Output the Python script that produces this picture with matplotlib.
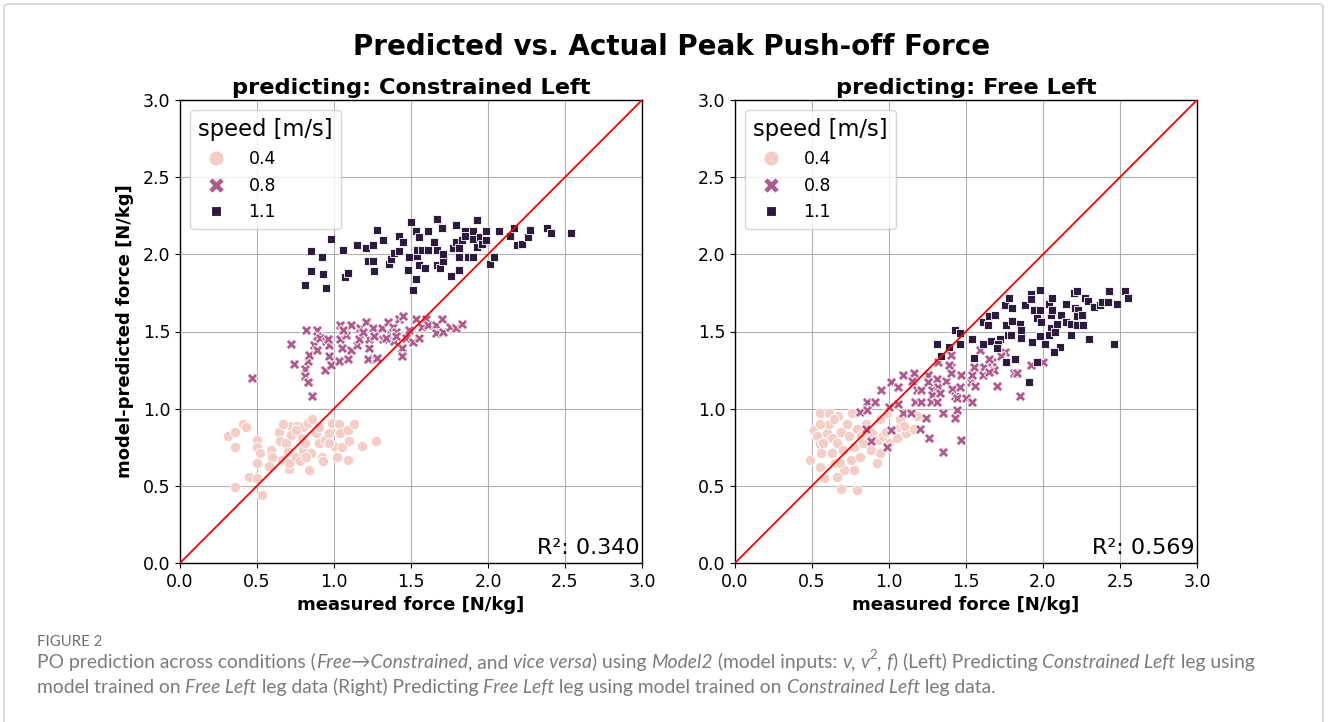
import matplotlib
matplotlib.use("Agg")
import matplotlib.pyplot as plt
from matplotlib.lines import Line2D
from matplotlib.patches import FancyBboxPatch
import numpy as np

# ---------------- data ----------------
speeds = [0.4, 0.8, 1.1]
speed_labels = ["0.4", "0.8", "1.1"]

# Left panel: predicting Constrained Left
left_04_x = [0.31,0.36,0.36,0.41,0.43,0.36,0.45,0.50,0.53,0.50,0.50,0.52,0.50,0.59,0.60,0.58,0.64,0.65,0.66,0.69,0.70,0.71,0.71,0.72,0.72,0.75,0.76,0.78,0.79,0.80,0.80,0.81,0.83,0.84,0.86,0.85,0.88,0.90,0.92,0.93,0.94,0.97,0.99,1.00,1.03,1.02,1.04,1.05,1.09,1.10,1.09,1.13,1.18,1.27,0.67,0.75,0.90,0.82,0.97]
left_04_y = [0.82,0.85,0.75,0.90,0.88,0.49,0.56,0.55,0.44,0.80,0.75,0.71,0.65,0.73,0.69,0.63,0.85,0.79,0.67,0.78,0.72,0.61,0.65,0.89,0.83,0.69,0.89,0.66,0.81,0.73,0.88,0.78,0.91,0.60,0.93,0.71,0.84,0.78,0.69,0.66,0.80,0.84,0.91,0.76,0.90,0.69,0.84,0.75,0.67,0.79,0.86,0.90,0.76,0.79,0.90,0.86,0.88,0.69,0.78]

left_08_x = [0.47,0.72,0.74,0.82,0.89,0.81,0.81,0.84,0.83,0.84,0.87,0.89,0.91,0.89,0.95,0.94,0.97,0.97,0.98,0.96,1.04,1.04,1.03,1.05,1.08,1.09,1.11,1.11,1.15,1.16,1.17,1.21,1.22,1.23,1.23,1.25,1.26,1.27,1.28,1.31,1.32,1.35,1.37,1.38,1.39,1.40,1.42,1.45,1.44,1.44,1.47,1.49,1.53,1.51,1.55,1.57,1.60,1.61,1.66,1.66,1.70,1.71,1.75,1.79,1.83,1.06,1.19,1.34,1.40,0.86,0.83]
left_08_y = [1.20,1.42,1.29,1.51,1.51,1.26,1.21,1.17,1.31,1.35,1.41,1.47,1.46,1.38,1.44,1.25,1.41,1.34,1.28,1.45,1.54,1.45,1.31,1.39,1.48,1.32,1.38,1.54,1.41,1.45,1.52,1.56,1.32,1.39,1.45,1.52,1.47,1.32,1.33,1.52,1.45,1.56,1.48,1.53,1.44,1.50,1.58,1.60,1.39,1.34,1.46,1.51,1.58,1.43,1.46,1.53,1.58,1.54,1.54,1.49,1.58,1.50,1.53,1.52,1.55,1.51,1.50,1.46,1.47,1.08,1.175]

left_11_x = [0.85,0.81,0.85,0.92,0.93,0.95,0.98,1.06,1.07,1.09,1.15,1.21,1.25,1.22,1.25,1.26,1.28,1.32,1.36,1.37,1.39,1.42,1.42,1.45,1.48,1.49,1.50,1.53,1.53,1.51,1.54,1.54,1.55,1.55,1.57,1.59,1.61,1.61,1.65,1.67,1.67,1.67,1.69,1.70,1.71,1.71,1.76,1.77,1.79,1.79,1.81,1.81,1.81,1.83,1.85,1.85,1.87,1.90,1.90,1.90,1.93,1.93,1.95,1.96,1.99,1.99,2.01,2.04,2.07,2.14,2.17,2.19,2.22,2.26,2.27,2.38,2.41,2.54]
left_11_y = [2.02,1.80,1.89,1.98,1.87,1.78,2.10,2.03,1.85,1.88,2.06,2.04,2.06,1.96,1.96,1.89,2.16,2.09,1.94,1.97,2.01,2.02,2.12,2.08,1.90,1.98,2.21,2.15,1.84,1.77,1.99,2.03,2.11,1.93,2.03,1.91,2.15,2.03,2.08,2.03,1.93,2.23,1.91,2.17,1.96,2.00,1.86,2.04,2.19,2.08,1.98,1.90,2.04,2.09,2.15,2.12,1.98,1.98,2.15,2.10,2.22,2.05,2.11,2.07,2.15,2.09,1.94,1.98,2.15,2.12,2.17,2.06,2.07,2.11,2.16,2.17,2.14,2.14]

# Right panel: predicting Free Left
right_04_x = [0.49,0.51,0.53,0.55,0.55,0.56,0.60,0.61,0.61,0.63,0.63,0.65,0.66,0.67,0.69,0.69,0.70,0.71,0.73,0.74,0.75,0.77,0.76,0.77,0.79,0.79,0.81,0.82,0.83,0.85,0.88,0.89,0.92,0.94,0.93,0.94,0.96,0.99,0.98,1.00,1.05,1.07,1.11,1.07,0.55,0.64,0.68,0.57,1.16,1.10,1.18,0.55,0.58,0.66]
right_04_y = [0.67,0.86,0.82,0.77,0.97,0.71,0.84,0.97,0.90,0.71,0.81,0.65,0.78,0.95,0.48,0.85,0.73,0.60,0.90,0.82,0.67,0.60,0.97,0.75,0.87,0.47,0.69,0.82,0.78,0.90,0.73,0.84,0.65,0.71,0.80,0.93,0.82,0.97,0.85,0.78,0.81,0.88,0.84,0.93,0.90,0.93,0.65,0.78,0.87,0.89,0.95,0.62,0.55,0.56]

right_08_x = [0.86,0.91,0.81,0.86,0.85,0.95,1.01,1.06,1.09,1.16,1.15,1.18,1.17,1.21,1.09,1.14,1.21,1.25,1.25,1.24,1.20,1.26,1.28,1.28,1.27,1.31,1.32,1.31,1.33,1.35,1.37,1.40,1.40,1.41,1.43,1.44,1.43,1.44,1.46,1.47,1.50,1.53,1.54,1.54,1.56,1.55,1.59,1.62,1.61,1.67,1.68,1.70,1.75,1.73,1.81,1.83,1.85,1.92,1.47,1.35,1.01,0.99,1.65,1.65,1.40,1.32,1.39,2.00,0.88,1.00,1.06]
right_08_y = [1.04,1.04,0.98,0.99,0.87,1.12,1.17,1.14,1.22,1.23,1.18,1.12,1.04,1.04,0.97,0.97,1.12,1.22,1.17,0.94,0.87,0.81,1.12,1.09,1.04,1.19,1.14,1.04,1.10,0.97,1.18,1.27,1.23,1.13,1.08,0.99,0.94,1.07,1.14,1.22,1.07,1.17,1.04,1.22,1.15,1.27,1.38,1.27,1.22,1.30,1.25,1.15,1.37,1.34,1.23,1.23,1.08,1.28,0.80,0.72,0.86,0.75,1.24,1.32,1.35,1.30,1.28,1.30,0.79,1.01,1.03]

right_11_x = [1.31,1.39,1.34,1.43,1.46,1.46,1.54,1.55,1.61,1.64,1.65,1.69,1.61,1.66,1.72,1.71,1.70,1.75,1.78,1.80,1.76,1.80,1.77,1.79,1.85,1.86,1.86,1.76,1.82,1.88,1.92,1.92,1.93,1.94,1.96,1.98,1.98,1.99,1.98,2.01,1.96,2.04,2.06,2.05,2.06,2.05,2.04,2.09,2.08,2.11,2.07,2.12,2.15,2.15,2.18,2.18,2.20,2.22,2.21,2.23,2.22,2.22,2.26,2.25,2.27,2.29,2.30,2.33,2.37,2.38,2.42,2.43,2.46,2.48,2.53,2.55,1.91]
right_11_y = [1.42,1.40,1.34,1.51,1.49,1.42,1.45,1.33,1.56,1.54,1.60,1.61,1.42,1.44,1.45,1.42,1.39,1.67,1.72,1.65,1.54,1.57,1.48,1.48,1.55,1.51,1.46,1.30,1.32,1.67,1.74,1.71,1.43,1.64,1.59,1.64,1.77,1.56,1.47,1.42,1.30,1.68,1.72,1.61,1.64,1.52,1.48,1.55,1.50,1.40,1.37,1.61,1.68,1.56,1.55,1.48,1.75,1.76,1.65,1.64,1.60,1.54,1.54,1.61,1.72,1.70,1.45,1.66,1.67,1.69,1.69,1.76,1.42,1.68,1.76,1.72,1.17]

r2_values = ["0.340", "0.569"]
panel_titles = ["predicting: Constrained Left", "predicting: Free Left"]
suptitle = "Predicted vs. Actual Peak Push-off Force"
xlabel = "measured force [N/kg]"
ylabel = "model-predicted force [N/kg]"
legend_title = "speed [m/s]"
ticks = [0.0, 0.5, 1.0, 1.5, 2.0, 2.5, 3.0]
tick_labels = ["0.0", "0.5", "1.0", "1.5", "2.0", "2.5", "3.0"]
diag = [0.0, 3.0]

# ---------------- style ----------------
W, H = 1328, 722
fig = plt.figure(figsize=(W / 100, H / 100), dpi=100)
fig.patch.set_facecolor("white")

colors = ["#f4cec6", "#ae5a8d", "#2d1b3f"]
markers = ["o", "X", (4, 0, 45)]

# outer frame of the page
frame = FancyBboxPatch((4 / W, -0.05), 1319 / W, (H - 4) / H + 0.05,
                       boxstyle="round,pad=0,rounding_size=0.004",
                       transform=fig.transFigure, fill=False,
                       edgecolor="#d2d2d2", linewidth=1.2)
fig.patches.append(frame)

ax_left = fig.add_axes([180 / W, (H - 563) / H, 462 / W, 463 / H])
ax_right = fig.add_axes([735 / W, (H - 563) / H, 462 / W, 463 / H])

panels = [
    (ax_left, [(left_04_x, left_04_y), (left_08_x, left_08_y), (left_11_x, left_11_y)]),
    (ax_right, [(right_04_x, right_04_y), (right_08_x, right_08_y), (right_11_x, right_11_y)]),
]

for i, (ax, groups) in enumerate(panels):
    ax.set_axisbelow(True)
    ax.grid(True, color="#b0b0b0", linewidth=0.8)
    for (gx, gy), c, m in zip(groups, colors, markers):
        ax.scatter(gx, gy, s=56, color=c, marker=m, edgecolors="white",
                   linewidths=0.6, zorder=2)
    ax.plot(diag, diag, color="red", linewidth=1.3, zorder=3)
    ax.set_xlim(0, 3)
    ax.set_ylim(0, 3)
    ax.set_xticks(ticks)
    ax.set_xticklabels(tick_labels)
    ax.set_yticks(ticks)
    ax.set_yticklabels(tick_labels)
    ax.tick_params(labelsize=12.5, length=3.5, width=0.8, color="black")
    for sp in ax.spines.values():
        sp.set_color("black")
        sp.set_linewidth(1.0)
    ax.set_title(panel_titles[i], fontsize=16.2, fontweight="bold", pad=4)
    ax.set_xlabel(xlabel, fontsize=13, fontweight="bold", labelpad=4)
    if i == 0:
        ax.set_ylabel(ylabel, fontsize=13, fontweight="bold", labelpad=6)
    ax.text(0.995, 0.01, "R²: " + r2_values[i], transform=ax.transAxes,
            ha="right", va="bottom", fontsize=16)
    handles = [Line2D([], [], linestyle="", marker=m, markerfacecolor=c,
                      markeredgecolor="white", markeredgewidth=0.8, markersize=11)
               for c, m in zip(colors, markers)]
    leg = ax.legend(handles, speed_labels, title=legend_title, loc="upper left",
                    fontsize=12.5, title_fontsize=16.3, labelspacing=0.5,
                    handletextpad=0.9, borderaxespad=0.6, borderpad=0.45)
    leg._legend_box.align = "left"

fig.text(672 / W, 1 - 47 / H, suptitle, ha="center", va="center",
         fontsize=20, fontweight="bold")

# ---------------- caption ----------------
CAP_FONT = ["Lato", "DejaVu Sans"]
CAP_COLOR = "#7b7b7b"
renderer = fig.canvas.get_renderer()


def text_width(txt, **kw):
    a = fig.text(0, 0, "I" + txt + "I", **kw)
    b = fig.text(0, 0, "II", **kw)
    w = a.get_window_extent(renderer).width - b.get_window_extent(renderer).width
    a.remove()
    b.remove()
    return w


def rich_line(x_px, y_px, pieces, size):
    x = x_px
    for txt, italic, sup in pieces:
        fs = size * 0.68 if sup else size
        dy = size * 0.45 * 100 / 72 if sup else 0
        kw = dict(fontsize=fs, color=CAP_COLOR, family=CAP_FONT,
                  style="italic" if italic else "normal")
        fig.text(x / W, (H - y_px + dy) / H, txt, ha="left", va="baseline", **kw)
        x += text_width(txt, **kw)


fig.text(37 / W, 1 - 646 / H, "FIGURE 2", fontsize=10.8, color="#6f6f6f",
         family=CAP_FONT, ha="left", va="baseline")
CAP_SIZE = 13.9
line1 = [
    ("PO prediction across conditions (", False, False),
    ("Free→Constrained", True, False),
    (", and ", False, False),
    ("vice versa", True, False),
    (") using ", False, False),
    ("Model2", True, False),
    (" (model inputs: ", False, False),
    ("v", True, False),
    (", ", False, False),
    ("v", True, False),
    ("2", False, True),
    (", ", False, False),
    ("f", True, False),
    (") (Left) Predicting ", False, False),
    ("Constrained Left", True, False),
    (" leg using", False, False),
]
line2 = [
    ("model trained on ", False, False),
    ("Free Left", True, False),
    (" leg data (Right) Predicting ", False, False),
    ("Free Left", True, False),
    (" leg using model trained on ", False, False),
    ("Constrained Left", True, False),
    (" leg data.", False, False),
]
rich_line(37, 668, line1, CAP_SIZE)
rich_line(37, 693, line2, CAP_SIZE)

fig.savefig("out.png", dpi=100)
